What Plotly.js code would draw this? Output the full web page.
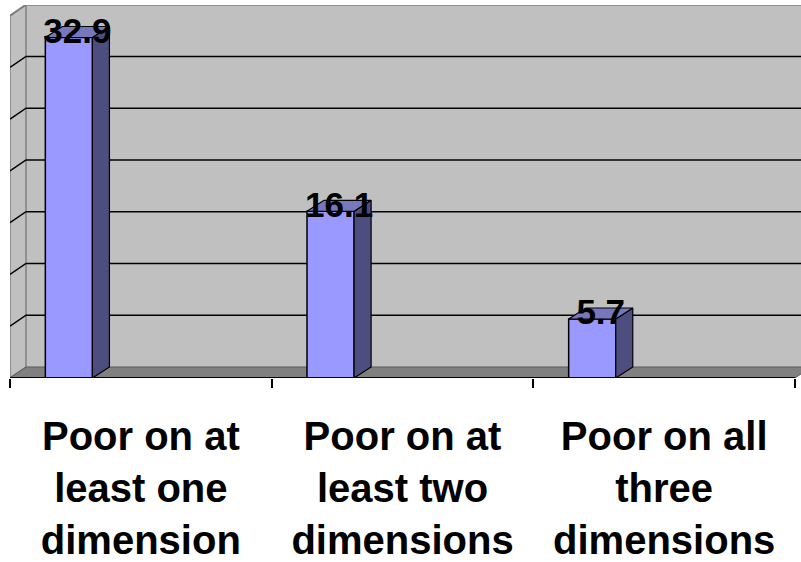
<!DOCTYPE html>
<html>
<head>
<meta charset="utf-8">
<script src="https://cdn.plot.ly/plotly-3.0.1.min.js"></script>
<style>html,body{margin:0;padding:0;background:#fff;}#chart{width:801px;height:562px;}</style>
</head>
<body>
<div id="chart"></div>
<script>
// ---- data ----
const categories = ["Poor on at<br>least one<br>dimension", "Poor on at<br>least two<br>dimensions", "Poor on all<br>three<br>dimensions"];
const values = [32.9, 16.1, 5.7];
const labels = ["32.9", "16.1", "5.7"];

// ---- axis settings ----
const axisMax = 35;
const majorUnit = 5;

// ---- geometry (pixel-based depth converted to data units) ----
const W = 801, H = 562;
const mL = 10, mR = 0, mT = 5, mB = 184;
const pxPerCat = 261.67;
const pxPerVal = 10.35;
const xMin = -0.5, xMax = -0.5 + (W - mL - mR) / pxPerCat;
const yMax = (H - mT - mB) / pxPerVal;
const DXf = 16 / pxPerCat;   // floor / wall depth
const DXb = 17 / pxPerCat;   // bar depth
const DY = 11 / pxPerVal;
const barOffset = -0.365, barWidth = 0.18;
const nCat = categories.length;
const xFront0 = -0.5, xFront1 = nCat - 0.5;
const xFar = xMax + 0.2;

const shapes = [];
// back wall
shapes.push({type:'rect', xref:'x', yref:'y', x0:xFront0 + DXf, x1:xFar, y0:DY, y1:axisMax + DY,
  fillcolor:'#C0C0C0', line:{width:0}, layer:'below'});
// left wall
shapes.push({type:'path', xref:'x', yref:'y', layer:'below',
  path:`M ${xFront0},0 L ${xFront0+DXf},${DY} L ${xFront0+DXf},${axisMax+DY} L ${xFront0},${axisMax} Z`,
  fillcolor:'#C0C0C0', line:{color:'#808080', width:1.5}});
// floor
shapes.push({type:'path', xref:'x', yref:'y', layer:'below',
  path:`M ${xFront0},0 L ${xFront1},0 L ${xFront1+DXf},${DY} L ${xFront0+DXf},${DY} Z`,
  fillcolor:'#808080', line:{color:'#5a5a5a', width:1}});
// gridlines (wall + side wall)
for (let v = majorUnit; v < axisMax; v += majorUnit) {
  shapes.push({type:'path', xref:'x', yref:'y', layer:'below',
    path:`M ${xFront0},${v} L ${xFront0+DXf},${v+DY} L ${xFar},${v+DY}`,
    line:{color:'#000000', width:1.5}});
}
// top edge of walls
shapes.push({type:'path', xref:'x', yref:'y', layer:'below',
  path:`M ${xFront0},${axisMax} L ${xFront0+DXf},${axisMax+DY} L ${xFar},${axisMax+DY}`,
  line:{color:'#808080', width:2}});
// front edge of floor
shapes.push({type:'line', xref:'x', yref:'y', layer:'above', x0:xFront0, x1:xFront1, y0:0, y1:0,
  line:{color:'#000000', width:2}});

// side and top faces of bars
const sideX = [], sideY = [], topX = [], topY = [];
values.forEach((v, i) => {
  const x0 = i + barOffset, x1 = x0 + barWidth;
  sideX.push(x1, x1 + DXb, x1 + DXb, x1, x1, null);
  sideY.push(0, DY, v + DY, v, 0, null);
  topX.push(x0, x0 + DXb, x1 + DXb, x1, x0, null);
  topY.push(v, v + DY, v + DY, v, v, null);
});
const idx = categories.map((c, i) => i);

const traces = [
  {type:'bar', x:idx, y:values, width:barWidth, offset:barOffset,
   marker:{color:'#9999FF', line:{color:'#000000', width:1.5}}, hoverinfo:'skip', showlegend:false},
  {type:'scatter', mode:'lines', x:sideX, y:sideY, fill:'toself', fillcolor:'#4D4D80',
   line:{color:'#000000', width:1.2}, hoverinfo:'skip', showlegend:false},
  {type:'scatter', mode:'lines', x:topX, y:topY, fill:'toself', fillcolor:'#7777BB',
   line:{color:'#000000', width:1.2}, hoverinfo:'skip', showlegend:false},
  {type:'scatter', mode:'text', x:idx.map(i => i + barOffset + barWidth/2 + DXb/2),
   y:values.map(v => v + DY/2 - 0.2), text:labels, textposition:'middle center', cliponaxis:false,
   textfont:{family:'Liberation Sans, Arial, sans-serif', size:35, color:'#000000', weight:'bold'},
   hoverinfo:'skip', showlegend:false},
  // invisible trace to carry boundary tick axis
  {type:'scatter', mode:'markers', x:[xFront0], y:[0], xaxis:'x2', marker:{opacity:0}, hoverinfo:'skip', showlegend:false}
];

const layout = {
  width: W, height: H,
  margin:{l:mL, r:mR, t:mT, b:mB, pad:0},
  paper_bgcolor:'#FFFFFF', plot_bgcolor:'#FFFFFF',
  showlegend:false, hovermode:false,
  xaxis:{range:[xMin, xMax], tickvals:idx, ticktext:categories, ticks:'',
    showgrid:false, zeroline:false, showline:false, ticklabelstandoff:31,
    tickfont:{family:'Liberation Sans, Arial, sans-serif', size:40, color:'#000000', weight:'bold'}},
  xaxis2:{range:[xMin, xMax], overlaying:'x', side:'bottom', anchor:'y',
    tickvals:categories.map((c, i) => i - 0.5).concat([nCat - 0.5]),
    ticks:'outside', ticklen:9, tickwidth:2, tickcolor:'#000000',
    showticklabels:false, showgrid:false, zeroline:false, showline:false},
  yaxis:{range:[0, yMax], showgrid:false, zeroline:false, showline:false, showticklabels:false, ticks:''},
  shapes: shapes
};

Plotly.newPlot('chart', traces, layout, {displayModeBar:false, staticPlot:true});
</script>
</body>
</html>
